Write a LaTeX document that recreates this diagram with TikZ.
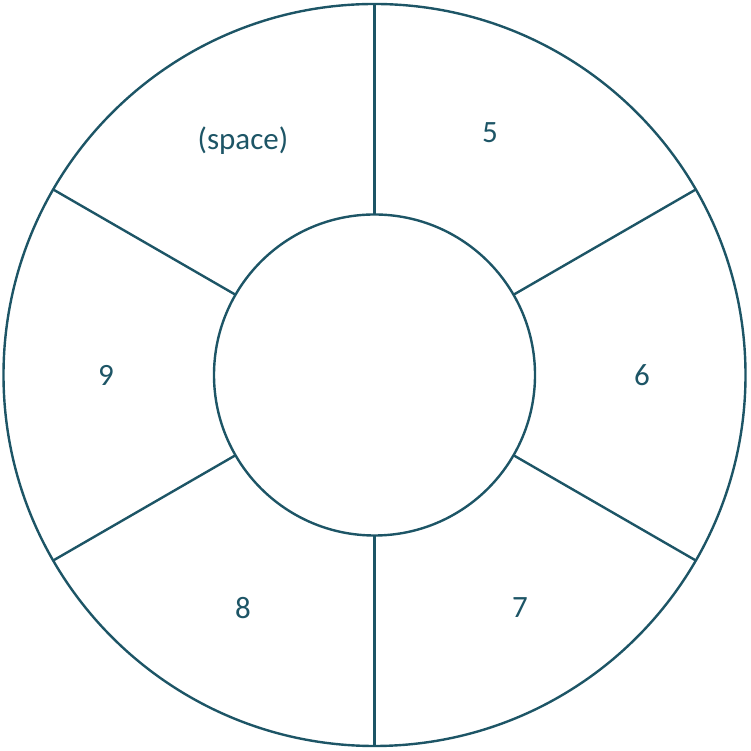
\documentclass[tikz,border=0pt]{standalone}
\usepackage{fontspec}
\setmainfont{Carlito}
\usetikzlibrary{calc}
\definecolor{ring}{HTML}{1D5566}
\begin{document}
\begin{tikzpicture}[x=1pt,y=1pt,
  ringline/.style={draw=ring,line width=2.4pt},
  lbl/.style={text=ring,font=\fontsize{31}{36}\selectfont,inner sep=0pt}]
\useasboundingbox (0,0) rectangle (750,751);
\coordinate (c) at (374.5,376);
\draw[ringline] (c) circle[radius=371];
\draw[ringline] (c) circle[radius=160.5];
\foreach \a in {90,30,-30,-90,-150,150}{
  \draw[ringline] ($(c)+(\a:160.5)$) -- ($(c)+(\a:371)$);
}
\node[lbl] (s) at (243,610) {(space)};
\node[lbl] (n5) at (490,618) {5};
\node[lbl] (n6) at (642,376) {6};
\node[lbl] (n7) at (520,143) {7};
\node[lbl] (n8) at (243,143) {8};
\node[lbl] (n9) at (106,376) {9};
\end{tikzpicture}
\end{document}
